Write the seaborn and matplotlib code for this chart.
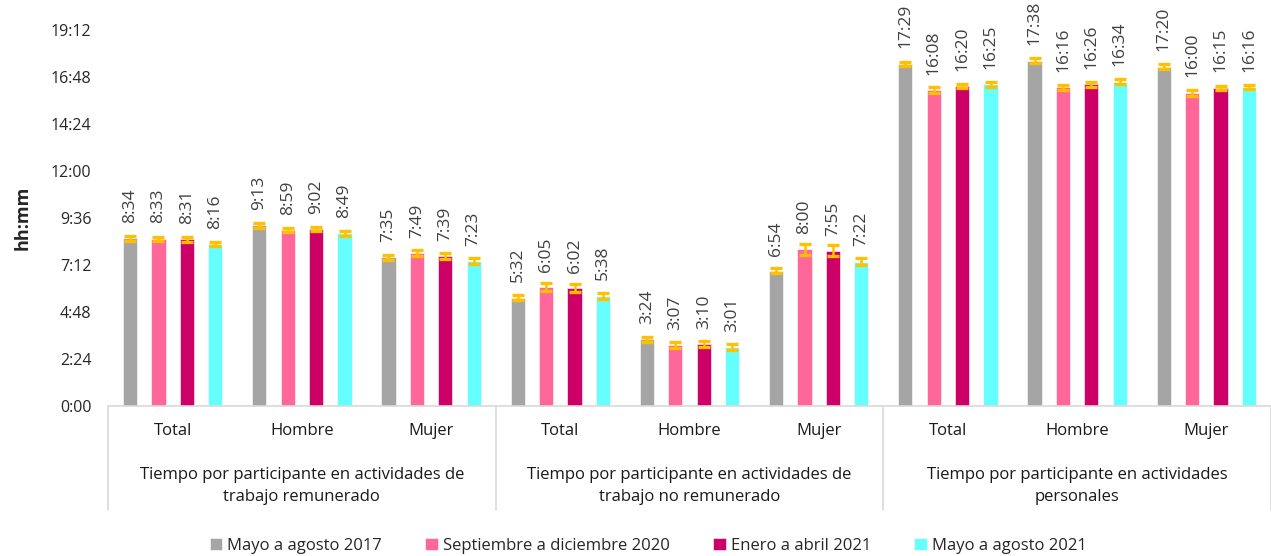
import numpy as np
import pandas as pd
import matplotlib
matplotlib.use("Agg")
import matplotlib.pyplot as plt
import matplotlib.transforms as mtransforms
from matplotlib.ticker import FuncFormatter
import seaborn as sns

# datos (hh:mm)
grupos = [
    "Tiempo por participante en actividades de\ntrabajo remunerado",
    "Tiempo por participante en actividades de\ntrabajo no remunerado",
    "Tiempo por participante en actividades\npersonales",
]
sexos = ["Total", "Hombre", "Mujer"]
periodos = ["Mayo a agosto 2017", "Septiembre a diciembre 2020",
            "Enero a abril 2021", "Mayo a agosto 2021"]

mayo_2017 = ["8:34", "9:13", "7:35", "5:32", "3:24", "6:54", "17:29", "17:38", "17:20"]
sep_dic_2020 = ["8:33", "8:59", "7:49", "6:05", "3:07", "8:00", "16:08", "16:16", "16:00"]
ene_abr_2021 = ["8:31", "9:02", "7:39", "6:02", "3:10", "7:55", "16:20", "16:26", "16:15"]
mayo_2021 = ["8:16", "8:49", "7:23", "5:38", "3:01", "7:22", "16:25", "16:34", "16:16"]

# medio intervalo de confianza (horas), estimado
err_2017 = [0.12, 0.12, 0.15, 0.12, 0.12, 0.13, 0.10, 0.12, 0.12]
err_2020 = [0.10, 0.12, 0.15, 0.20, 0.15, 0.28, 0.15, 0.12, 0.15]
err_2021a = [0.12, 0.12, 0.15, 0.20, 0.15, 0.28, 0.12, 0.12, 0.10]
err_2021b = [0.12, 0.12, 0.15, 0.15, 0.15, 0.18, 0.12, 0.12, 0.10]

colores = ["#A5A5A5", "#FF6699", "#CC0066", "#66FFFF"]


def a_horas(s):
    h, m = s.split(":")
    return int(h) + int(m) / 60


cats = [f"{g}|{s}" for g in grupos for s in sexos]
filas = []
for periodo, vals in zip(periodos, [mayo_2017, sep_dic_2020, ene_abr_2021, mayo_2021]):
    for c, v in zip(cats, vals):
        filas.append({"cat": c, "periodo": periodo, "horas": a_horas(v), "texto": v})
df = pd.DataFrame(filas)

sns.set_style("white")
plt.rcParams["font.family"] = ["Open Sans", "DejaVu Sans"]

fig = plt.figure(figsize=(12.71, 5.56), dpi=100)
ax = fig.add_axes([0.085, 0.2698, 0.915, 0.6763])

sns.barplot(data=df, x="cat", y="horas", hue="periodo", order=cats, hue_order=periodos,
            palette=colores, saturation=1, width=0.88, gap=0.5, errorbar=None, ax=ax,
            edgecolor="white", linewidth=0.4)

errores = [err_2017, err_2020, err_2021a, err_2021b]
textos = [mayo_2017, sep_dic_2020, ene_abr_2021, mayo_2021]
for cont, errs, txts in zip(ax.containers, errores, textos):
    xs = [b.get_x() + b.get_width() / 2 for b in cont]
    ys = [b.get_height() for b in cont]
    ax.errorbar(xs, ys, yerr=errs, fmt="none", ecolor="#FFC000", elinewidth=1.8,
                capsize=4.5, capthick=2.4, zorder=4)
    for x, y, t in zip(xs, ys, txts):
        ax.annotate(t, (x, y), xytext=(0, 11), textcoords="offset points",
                    rotation=90, ha="center", va="bottom", fontsize=12.5,
                    color="#404040", annotation_clip=False)

ax.set_ylim(0, 19.2)
ax.set_xlim(-0.5, len(cats) - 0.5)
ax.set_yticks(np.arange(0, 19.3, 2.4))
ax.yaxis.set_major_formatter(FuncFormatter(lambda v, p: f"{int(round(v * 60)) // 60}:{int(round(v * 60)) % 60:02d}"))
ax.tick_params(axis="y", labelsize=11.5, colors="#262626", length=0, pad=12)
ax.set_ylabel("hh:mm", fontsize=13, fontweight="bold", labelpad=14)
ax.set_xlabel("")
ax.set_xticks(range(len(cats)))
ax.set_xticklabels(sexos * len(grupos), fontsize=12, color="#1a1a1a")
ax.tick_params(axis="x", length=0, pad=12)

for lado in ["top", "right", "left"]:
    ax.spines[lado].set_visible(False)
ax.spines["bottom"].set_color("#D9D9D9")
ax.spines["bottom"].set_linewidth(1.2)

trans = mtransforms.blended_transform_factory(ax.transData, ax.transAxes)
for i in range(len(grupos) + 1):
    xsep = -0.5 + 3 * i
    ax.plot([xsep, xsep], [0, -0.277], transform=trans, color="#D9D9D9",
            linewidth=1.2, clip_on=False)
for i, g in enumerate(grupos):
    ax.text(3 * i + 1, -0.213, g, transform=trans, ha="center", va="center",
            fontsize=12, linespacing=1.45, color="#1a1a1a")

sns.move_legend(ax, "center", bbox_to_anchor=(0.51, 0.018), bbox_transform=fig.transFigure,
                ncol=4, frameon=False, title=None, fontsize=12, handlelength=0.75,
                handleheight=0.75, handletextpad=0.3, columnspacing=2.6)

fig.savefig("out.png", dpi=100)
